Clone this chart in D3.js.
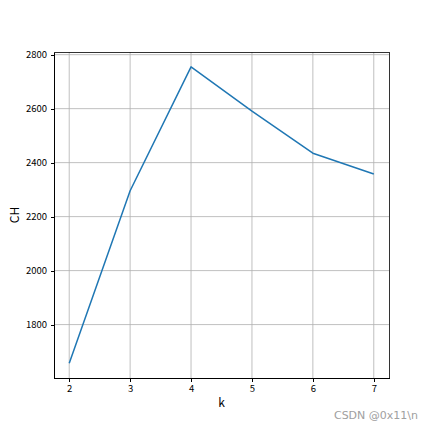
<!DOCTYPE html>
<meta charset="utf-8">
<style>
body { margin: 0; background: #fff; }
.axis path, .axis line { stroke: #000; shape-rendering: crispEdges; }
.axis text { fill: #000; font: 9.5px "Noto Sans CJK SC", sans-serif; }
.grid line { stroke: #b0b0b0; stroke-width: 0.8; }
</style>
<body>
<script src="https://cdn.jsdelivr.net/npm/d3@7"></script>
<script>

var ks = [2, 3, 4, 5, 6, 7];
var ch = [1657, 2296, 2755, 2591, 2435, 2358];
var xTicks = [2, 3, 4, 5, 6, 7];
var yTicks = [1800, 2000, 2200, 2400, 2600, 2800];

var margin = {top: 52, right: 43, bottom: 54, left: 54},
    width = 432 - margin.left - margin.right,
    height = 432 - margin.top - margin.bottom;

var svg = d3.select("body").append("svg")
    .attr("width", 432)
    .attr("height", 432);

var g = svg.append("g")
    .attr("transform", "translate(" + margin.left + "," + margin.top + ")");

var pad = (d3.max(ch) - d3.min(ch)) * 0.05;
var x = d3.scaleLinear().domain([1.75, 7.25]).range([0, width]);
var y = d3.scaleLinear().domain([d3.min(ch) - pad, d3.max(ch) + pad]).range([height, 0]);

// grid
g.append("g").attr("class", "grid")
  .selectAll("line").data(xTicks).enter().append("line")
    .attr("x1", function(d) { return x(d); })
    .attr("x2", function(d) { return x(d); })
    .attr("y1", 0).attr("y2", height);

g.append("g").attr("class", "grid")
  .selectAll("line").data(yTicks).enter().append("line")
    .attr("y1", function(d) { return y(d); })
    .attr("y2", function(d) { return y(d); })
    .attr("x1", 0).attr("x2", width);

var line = d3.line()
    .x(function(d, i) { return x(ks[i]); })
    .y(function(d) { return y(d); });

g.append("path")
    .datum(ch)
    .attr("d", line)
    .attr("fill", "none")
    .attr("stroke", "#1f77b4")
    .attr("stroke-width", 1.5)
    .attr("stroke-linejoin", "round");

g.append("g")
    .attr("class", "axis")
    .attr("transform", "translate(0," + height + ")")
    .call(d3.axisBottom(x).tickValues(xTicks).tickFormat(d3.format("d"))
      .tickSize(3.5).tickPadding(3.5).tickSizeOuter(0));

g.append("g")
    .attr("class", "axis")
    .call(d3.axisLeft(y).tickValues(yTicks).tickFormat(d3.format("d"))
      .tickSize(3.5).tickPadding(3.5).tickSizeOuter(0));

// frame
g.append("rect")
    .attr("width", width)
    .attr("height", height)
    .attr("fill", "none")
    .attr("stroke", "#000")
    .attr("stroke-width", 0.8)
    .style("shape-rendering", "crispEdges");

svg.append("text")
    .attr("x", margin.left + width / 2)
    .attr("y", 407)
    .attr("text-anchor", "middle")
    .style("fill", "#000")
    .style("font", "12px 'Noto Sans CJK SC', sans-serif")
    .text("k");

svg.append("text")
    .attr("transform", "translate(19," + (margin.top + height / 2) + ") rotate(-90)")
    .attr("text-anchor", "middle")
    .style("fill", "#000")
    .style("font", "12px 'Noto Sans CJK SC', sans-serif")
    .text("CH");

svg.append("text")
    .attr("x", 418)
    .attr("y", 419)
    .attr("text-anchor", "end")
    .style("font", "11px 'DejaVu Sans', sans-serif")
    .style("fill", "#a0a0a0")
    .text("CSDN @0x11\\n");

</script>
